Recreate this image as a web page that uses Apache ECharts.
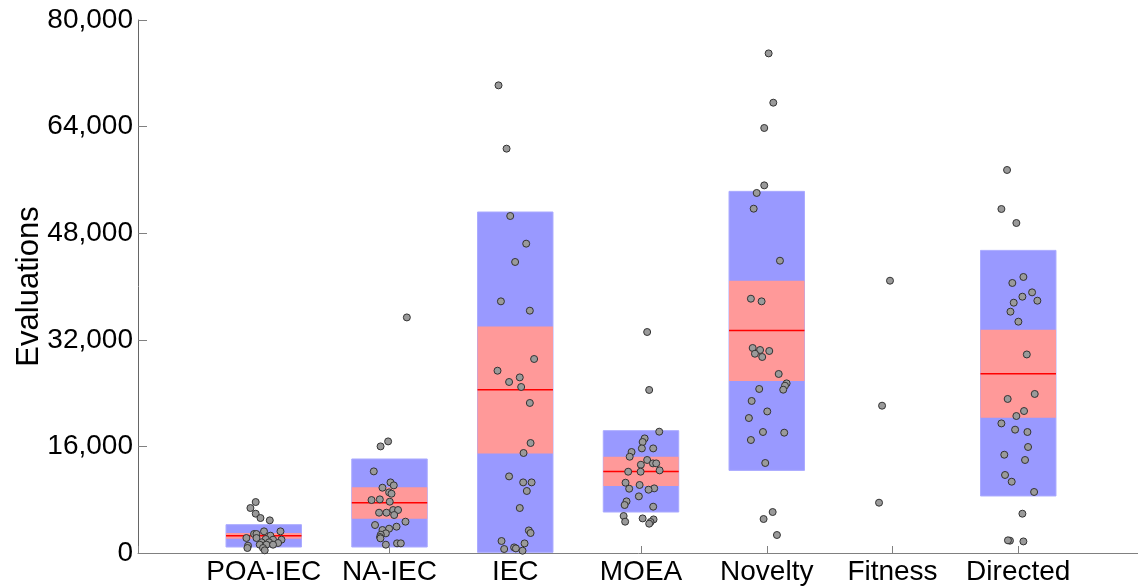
<!DOCTYPE html>
<html>
<head>
<meta charset="utf-8">
<script src="https://cdn.jsdelivr.net/npm/echarts@6/dist/echarts.min.js"></script>
<style>
html,body{margin:0;padding:0;background:#fff;}
#chart{width:1138px;height:588px;}
</style>
</head>
<body>
<div id="chart"></div>
<script>
// Categories (placed at x = 1..7 on the horizontal value axis)
const categories = ['POA-IEC', 'NA-IEC', 'IEC', 'MOEA', 'Novelty', 'Fitness', 'Directed'];
const yTicks = [0, 16000, 32000, 48000, 64000, 80000];

// Box summaries: [categoryPosition, outerLow, outerHigh, innerLow, innerHigh, median]
const boxStats = [
  [1, 900, 4250, 2150, 3000, 2600],
  [2, 900, 14110, 5150, 9850, 7550],
  [3, 100, 51180, 14950, 34010, 24510],
  [4, 6150, 18360, 10060, 14450, 12250],
  [5, 12400, 54280, 25820, 40870, 33410],
  [7, 8560, 45420, 20310, 33520, 26910]
];

// Individual runs: [jittered x, evaluations]
const poaIecPoints = [
  [0.936, 7650], [0.894, 6750], [0.936, 5900], [0.974, 5250], [1.048, 4900],
  [1.002, 3250], [1.133, 3250], [0.923, 2850], [0.942, 2850], [0.862, 2250],
  [1.053, 2600], [1.016, 2100], [1.074, 2000], [1.141, 2000], [0.982, 1600],
  [1.042, 1600], [1.114, 1500], [0.968, 1250], [1.021, 1250], [1.074, 1250],
  [0.875, 1100], [0.870, 750], [0.994, 750], [1.008, 400], [0.942, 2250]
];
const naIecPoints = [
  [2.138, 35360], [1.989, 16750], [1.929, 16000], [1.875, 12250], [2.008, 10600],
  [2.034, 10150], [1.944, 9800], [1.997, 9100], [2.016, 8900], [1.857, 7950],
  [1.923, 8050], [2.002, 7700], [1.917, 6050], [1.976, 6050], [2.029, 6450],
  [2.068, 6450], [2.037, 5700], [2.127, 4700], [1.885, 4200], [2.056, 3950],
  [1.997, 3650], [1.944, 3450], [1.971, 2950], [1.931, 2750], [1.925, 2400],
  [1.928, 2200], [2.060, 1450], [2.090, 1450], [1.971, 1250]
];
const iecPoints = [
  [2.867, 70190], [2.931, 60690], [2.960, 50580], [3.087, 46430], [2.999, 43680],
  [2.886, 37770], [3.116, 36370], [3.150, 29120], [2.859, 27360], [3.036, 26360],
  [2.951, 25670], [3.047, 24920], [3.116, 22520], [3.122, 16510], [3.066, 15010],
  [2.951, 11500], [3.063, 10600], [3.130, 10600], [3.092, 9310], [3.036, 6750],
  [3.108, 3390], [3.122, 3000], [2.891, 1800], [3.074, 1440], [2.912, 600],
  [2.991, 840], [3.005, 690], [3.058, 345]
];
const moeaPoints = [
  [4.049, 33170], [4.065, 24470], [4.145, 18210], [4.029, 17200], [4.013, 16660],
  [4.007, 15700], [4.097, 15700], [3.925, 15160], [3.910, 14450], [4.049, 13960],
  [3.999, 13250], [4.095, 13450], [4.121, 13450], [3.898, 12200], [3.997, 12200],
  [4.148, 12400], [3.877, 10550], [3.989, 10210], [3.906, 9650], [4.105, 9700],
  [4.060, 9500], [3.983, 8500], [3.885, 7750], [3.870, 7200], [4.097, 6950],
  [3.862, 5550], [3.874, 4700], [4.013, 5190], [4.100, 5040], [4.076, 4650],
  [4.065, 4400]
];
const noveltyPoints = [
  [5.015, 74990], [5.052, 67590], [4.980, 63790], [4.980, 55180], [4.920, 54040],
  [4.896, 51680], [5.105, 43870], [4.874, 38170], [4.959, 37770], [4.888, 30770],
  [4.947, 30470], [5.020, 30320], [4.906, 29910], [4.964, 29420], [5.095, 26870],
  [5.158, 25460], [5.145, 25110], [5.131, 24510], [4.940, 24620], [4.880, 22820],
  [5.004, 21250], [4.858, 20260], [4.970, 18160], [5.139, 18060], [4.874, 16960],
  [4.988, 13510], [5.047, 6150], [4.975, 5100], [5.081, 2700]
];
const fitnessPoints = [
  [5.980, 40870], [5.917, 22110], [5.893, 7550]
];
const directedPoints = [
  [6.911, 57490], [6.866, 51630], [6.985, 49530], [7.041, 41430], [6.953, 40530],
  [7.110, 39120], [7.033, 38470], [7.152, 37870], [6.964, 37570], [6.938, 36220],
  [7.001, 34720], [7.068, 29800], [7.131, 23870], [6.916, 23120], [7.046, 21310],
  [6.985, 20560], [6.866, 19450], [6.975, 18510], [7.073, 18160], [7.078, 15910],
  [6.889, 14750], [7.054, 13960], [6.895, 11710], [6.948, 10700], [7.126, 9160],
  [7.033, 5900], [6.934, 1850], [6.918, 1900], [7.041, 1740]
];

const pointSets = [poaIecPoints, naIecPoints, iecPoints, moeaPoints, noveltyPoints, fitnessPoints, directedPoints];

const BOX_HALF = 0.3;
const FONT = '"Liberation Sans", Arial, sans-serif';

function renderBox(params, api) {
  const x = api.value(0);
  const oLo = api.coord([x - BOX_HALF, api.value(1)]);
  const oHi = api.coord([x + BOX_HALF, api.value(2)]);
  const iLo = api.coord([x - BOX_HALF, api.value(3)]);
  const iHi = api.coord([x + BOX_HALF, api.value(4)]);
  const mL = api.coord([x - BOX_HALF, api.value(5)]);
  const mR = api.coord([x + BOX_HALF, api.value(5)]);
  return {
    type: 'group',
    children: [
      { type: 'rect', shape: { x: oLo[0], y: oHi[1], width: oHi[0] - oLo[0], height: oLo[1] - oHi[1] },
        style: { fill: '#9999ff', stroke: '#aaaaff', lineWidth: 1 } },
      { type: 'rect', shape: { x: iLo[0], y: iHi[1], width: iHi[0] - iLo[0], height: iLo[1] - iHi[1] },
        style: { fill: '#ff9999' } },
      { type: 'line', shape: { x1: mL[0], y1: mL[1], x2: mR[0], y2: mR[1] },
        style: { stroke: '#ff0000', lineWidth: 1.5 } }
    ]
  };
}

const chart = echarts.init(document.getElementById('chart'), null, { renderer: 'canvas' });

const series = [{
  type: 'custom',
  renderItem: renderBox,
  data: boxStats,
  encode: { x: 0, y: [1, 2] },
  z: 1,
  silent: true
}];
pointSets.forEach((pts, i) => {
  series.push({
    type: 'scatter',
    name: categories[i],
    data: pts,
    symbol: 'circle',
    symbolSize: 7,
    itemStyle: { color: '#9a9a9a', borderColor: '#333333', borderWidth: 1, opacity: 1 },
    z: 3,
    silent: true
  });
});

chart.setOption({
  animation: false,
  backgroundColor: '#ffffff',
  grid: { left: 138, width: 1006, top: 20, height: 533, containLabel: false, outerBoundsMode: 'none' },
  xAxis: {
    type: 'value',
    min: 0,
    max: 8,
    interval: 1,
    splitLine: { show: false },
    axisLine: { show: true, onZero: false, lineStyle: { color: '#808080', width: 1 } },
    axisTick: { show: true, inside: true, length: 7, lineStyle: { color: '#808080' },
      interval: 0 },
    axisLabel: {
      color: '#000',
      fontSize: 28,
      fontFamily: FONT,
      margin: 5,
      formatter: v => (v >= 1 && v <= 7 && Number.isInteger(v)) ? categories[v - 1] : ''
    }
  },
  yAxis: {
    type: 'value',
    min: yTicks[0],
    max: yTicks[yTicks.length - 1],
    interval: yTicks[1] - yTicks[0],
    name: 'Evaluations',
    nameLocation: 'middle',
    nameGap: 93,
    nameMoveOverlap: false,
    nameTextStyle: { color: '#000', fontSize: 31, fontFamily: FONT },
    splitLine: { show: false },
    axisLine: { show: true, lineStyle: { color: '#666666', width: 1 } },
    axisTick: { show: true, inside: true, length: 9, lineStyle: { color: '#808080' } },
    axisLabel: {
      color: '#000',
      fontSize: 28,
      fontFamily: FONT,
      margin: 5,
      formatter: v => v.toLocaleString('en-US')
    }
  },
  series: series
});
</script>
</body>
</html>
